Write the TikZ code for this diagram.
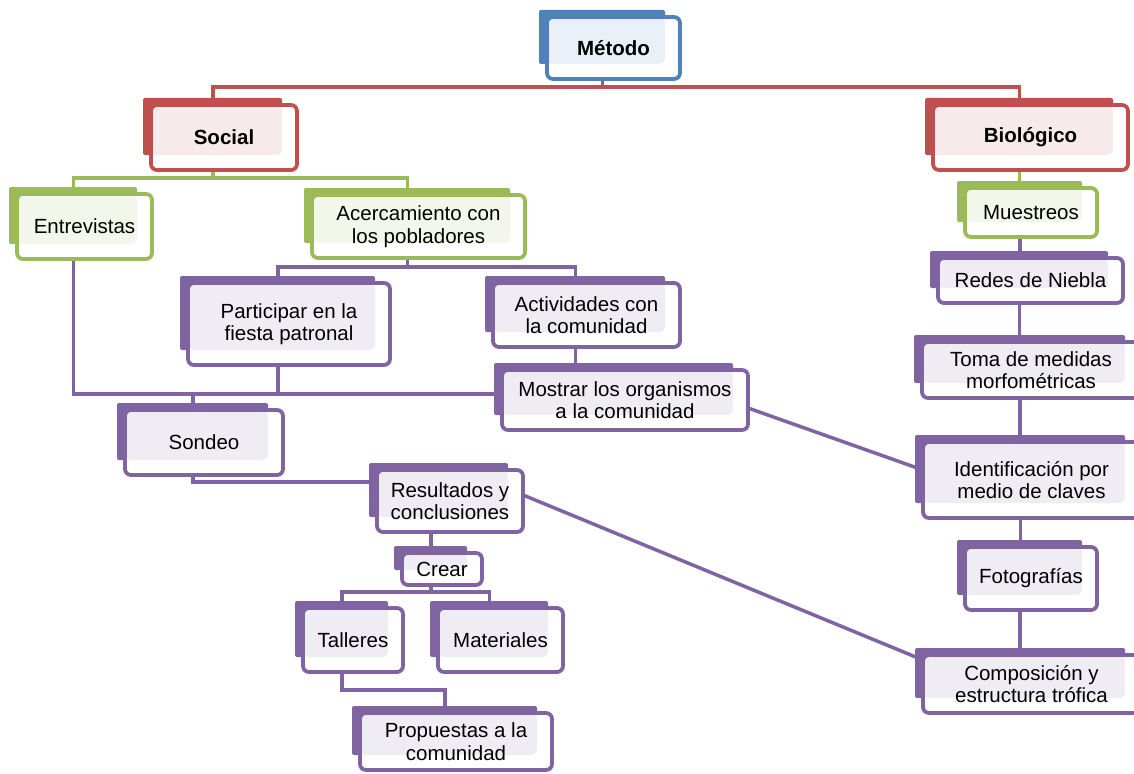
\documentclass[tikz,border=0pt]{standalone}
\usepackage{fontspec}
\setmainfont{Liberation Sans}
\usetikzlibrary{backgrounds}
\definecolor{mblue}{HTML}{4F81BD}
\definecolor{mred}{HTML}{C0504D}
\definecolor{mgreen}{HTML}{9BBB59}
\definecolor{mpurple}{HTML}{8064A2}
\begin{document}
\begin{tikzpicture}[x=1pt,y=-1pt]
        \tikzstyle{concept}=[rectangle,rounded corners=6pt,line width=3.8pt,fill=white,inner sep=0pt,outer sep=0pt,align=center,font=\fontsize{20.5}{22.5}\selectfont]
        \tikzstyle{bluebox}=[concept,draw=mblue,path picture={\fill[mblue!12] (path picture bounding box.north west) rectangle ([xshift=-15pt,yshift=15pt]path picture bounding box.south east);}]
        \tikzstyle{redbox}=[concept,draw=mred,path picture={\fill[mred!12] (path picture bounding box.north west) rectangle ([xshift=-15pt,yshift=15pt]path picture bounding box.south east);}]
        \tikzstyle{greenbox}=[concept,draw=mgreen,path picture={\fill[mgreen!12] (path picture bounding box.north west) rectangle ([xshift=-15pt,yshift=15pt]path picture bounding box.south east);}]
        \tikzstyle{purplebox}=[concept,draw=mpurple,path picture={\fill[mpurple!12] (path picture bounding box.north west) rectangle ([xshift=-15pt,yshift=15pt]path picture bounding box.south east);}]
        \tikzstyle{link}=[line width=3.5pt]
        \useasboundingbox (0,0) rectangle (1134,773);
        \begin{scope}
           \node [bluebox,minimum width=133pt,minimum height=62pt] (metodo) at (613.5,48) {\textbf{Método}};
           \node [redbox,minimum width=146pt,minimum height=65pt] (social) at (224,137.5) {\textbf{Social}};
           \node [redbox,minimum width=195pt,minimum height=65pt] (biologico) at (1030.5,137.5) {\textbf{Biológico}};
           \node [greenbox,minimum width=135pt,minimum height=65pt] (entrevistas) at (84.5,226.5) {Entrevistas};
           \node [greenbox,minimum width=213pt,minimum height=63pt] (acercamiento) at (418.5,226.5) {Acercamiento con\\los pobladores};
           \node [greenbox,minimum width=132pt,minimum height=49pt] (muestreos) at (1031,212.5) {Muestreos};
           \node [purplebox,minimum width=202pt,minimum height=82pt] (participar) at (289,324) {Participar en la\\fiesta patronal};
           \node [purplebox,minimum width=187pt,minimum height=64pt] (actividades) at (586.5,315) {Actividades con\\la comunidad};
           \node [purplebox,minimum width=246pt,minimum height=60pt] (mostrar) at (625,400) {Mostrar los organismos\\a la comunidad};
           \node [purplebox,minimum width=158pt,minimum height=65pt] (sondeo) at (204,442.5) {Sondeo};
           \node [purplebox,minimum width=146pt,minimum height=62pt] (resultados) at (450,501) {Resultados y\\conclusiones};
           \node [purplebox,minimum width=80pt,minimum height=32pt] (crear) at (442,569) {Crear};
           \node [purplebox,minimum width=100pt,minimum height=64pt] (talleres) at (353,640) {Talleres};
           \node [purplebox,minimum width=125pt,minimum height=64pt] (materiales) at (500.5,640) {Materiales};
           \node [purplebox,minimum width=192pt,minimum height=57pt] (propuestas) at (456,741.5) {Propuestas a la\\comunidad};
           \node [purplebox,minimum width=185pt,minimum height=45pt] (redes) at (1030.5,280.5) {Redes de Niebla};
           \node [purplebox,minimum width=218pt,minimum height=56pt] (toma) at (1031,370) {Toma de medidas\\morfométricas};
           \node [purplebox,minimum width=217pt,minimum height=76pt] (identificacion) at (1031.5,480) {Identificación por\\medio de claves};
           \node [purplebox,minimum width=132pt,minimum height=63pt] (fotografias) at (1031,578.5) {Fotografías};
           \node [purplebox,minimum width=217pt,minimum height=58pt] (composicion) at (1031.5,684) {Composición y\\estructura trófica};
        \end{scope}
        \begin{scope}[on background layer]
           % connectors
           \draw[link,mred] ([xshift=-11pt]metodo.south) -- ++(0,8) coordinate (m1) -| ([xshift=-11pt]social.north);
           \draw[link,mred] (m1) -| ([xshift=-11pt]biologico.north);
           \draw[link,mgreen] ([xshift=-11pt]social.south) -- ++(0,8) coordinate (s1) -| ([xshift=-11pt]entrevistas.north);
           \draw[link,mgreen] (s1) -| ([xshift=-11pt]acercamiento.north);
           \draw[link,mgreen] ([xshift=-11pt]biologico.south) -- ([xshift=-11pt]biologico.south |- muestreos.north);
           \foreach \a/\b in {muestreos/redes,redes/toma,toma/identificacion,identificacion/fotografias,fotografias/composicion}
              \draw[link,mpurple] ([xshift=-11pt]\a.south) -- ([xshift=-11pt]\a.south |- \b.north);
           \draw[link,mpurple] ([xshift=-11pt]acercamiento.south) -- ++(0,9) coordinate (a1) -| ([xshift=-11pt]participar.north);
           \draw[link,mpurple] (a1) -| ([xshift=-11pt]actividades.north);
           \draw[link,mpurple] ([xshift=-11pt]actividades.south) -- ([xshift=-11pt]actividades.south |- mostrar.north);
           \draw[link,mpurple] ([xshift=-11pt]entrevistas.south) -- ++(0,135) coordinate (e1) -- (e1 -| mostrar.west);
           \draw[link,mpurple] ([xshift=-11pt]participar.south) -- ([xshift=-11pt]participar.south |- e1);
           \draw[link,mpurple] ([xshift=-11pt]sondeo.north |- e1) -- ([xshift=-11pt]sondeo.north);
           \draw[link,mpurple] ([xshift=-11pt]sondeo.south) -- ++(0,7) coordinate (d1) -- (d1 -| resultados.west);
           \draw[link,mpurple] ([xshift=-11pt]crear.north |- resultados.south) -- ([xshift=-11pt]crear.north);
           \draw[link,mpurple] ([xshift=-11pt]crear.south) -- ++(0,7) coordinate (c1) -| ([xshift=-11pt]talleres.north);
           \draw[link,mpurple] (c1) -| ([xshift=-11pt]materiales.north);
           \draw[link,mpurple] ([xshift=-11pt]talleres.south) -- ++(0,18) -| ([xshift=-11pt]propuestas.north);
           \draw[link,mpurple] ([yshift=-8pt]mostrar.east) -- ([yshift=10pt]identificacion.west);
           \draw[link,mpurple] ([yshift=6pt]resultados.east) -- ([yshift=24pt]composicion.west);
           % back tabs
           \foreach \n/\c in {metodo/mblue,social/mred,biologico/mred,entrevistas/mgreen,acercamiento/mgreen,muestreos/mgreen,participar/mpurple,actividades/mpurple,mostrar/mpurple,sondeo/mpurple,resultados/mpurple,crear/mpurple,talleres/mpurple,materiales/mpurple,propuestas/mpurple,redes/mpurple,toma/mpurple,identificacion/mpurple,fotografias/mpurple,composicion/mpurple}
              \fill[\c,rounded corners=2pt] ([shift={(-8pt,7pt)}]\n.north west) rectangle ([shift={(-15pt,15pt)}]\n.south east);
        \end{scope}
\end{tikzpicture}
\end{document}
